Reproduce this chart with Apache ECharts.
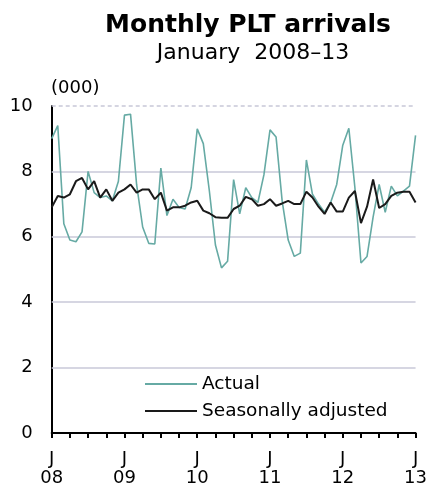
<!DOCTYPE html>
<html>
<head>
<meta charset="utf-8">
<script src="https://cdn.jsdelivr.net/npm/echarts@6/dist/echarts.min.js"></script>
<style>
html,body{margin:0;padding:0;background:#fff;}
#c{width:430px;height:494px;}
</style>
</head>
<body>
<div id="c"></div>
<script>
// Months Jan 2008 .. Jan 2013
var months = [];
var yearLabels = ['08','09','10','11','12','13'];
for (var y = 0; y < 5; y++) {
  for (var m = 0; m < 12; m++) months.push(yearLabels[y] + '-' + (m + 1));
}
months.push('13-1');

var actual = [
  9.0, 9.4, 6.4, 5.9, 5.85, 6.15, 8.0, 7.35, 7.2, 7.25, 7.1, 7.7,
  9.72, 9.75, 7.6, 6.3, 5.8, 5.78, 8.1, 6.65, 7.15, 6.9, 6.85, 7.5,
  9.3, 8.85, 7.4, 5.75, 5.05, 5.25, 7.75, 6.7, 7.5, 7.2, 7.05, 7.9,
  9.27, 9.05, 7.1, 5.9, 5.4, 5.5, 8.35, 7.3, 7.0, 6.75, 7.05, 7.6,
  8.8, 9.32, 7.5, 5.2, 5.4, 6.6, 7.6, 6.75, 7.55, 7.25, 7.4, 7.55,
  9.1
];
var seasonal = [
  6.9, 7.25, 7.2, 7.3, 7.7, 7.8, 7.45, 7.7, 7.2, 7.45, 7.1, 7.35,
  7.45, 7.6, 7.35, 7.45, 7.45, 7.15, 7.35, 6.8, 6.9, 6.9, 6.95, 7.05,
  7.1, 6.8, 6.72, 6.6, 6.58, 6.58, 6.85, 6.95, 7.22, 7.15, 6.95, 7.0,
  7.15, 6.95, 7.02, 7.1, 7.0, 7.0, 7.38, 7.2, 6.92, 6.7, 7.05, 6.77,
  6.77, 7.2, 7.4, 6.42, 6.92, 7.75, 6.88, 7.0, 7.25, 7.35, 7.38, 7.38,
  7.05
];
var yTicks = [0, 2, 4, 6, 8, 10];

var chart = echarts.init(document.getElementById('c'), null, {renderer: 'canvas'});
var option = {
  animation: false,
  backgroundColor: '#ffffff',
  title: [
    {text: 'Monthly PLT arrivals', left: 243, top: 8, textAlign: 'center',
     textStyle: {fontFamily: 'DejaVu Sans', fontWeight: 'bold', fontSize: 25, color: '#000'}},
    {text: 'January  2008\u201313', left: 248, top: 37, textAlign: 'center',
     textStyle: {fontFamily: 'DejaVu Sans', fontWeight: 'normal', fontSize: 22, color: '#000'}},
    {text: '(000)', left: 46, top: 74,
     textStyle: {fontFamily: 'DejaVu Sans', fontWeight: 'normal', fontSize: 18, color: '#000'}}
  ],
  grid: {left: 51.7, right: 10.7, top: 106, bottom: 61, containLabel: false},
  legend: {
    orient: 'vertical', left: 140, top: 369, itemGap: 7,
    itemWidth: 52, itemHeight: 2, icon: 'rect',
    textStyle: {fontFamily: 'DejaVu Sans', fontSize: 18.5, color: '#000', lineHeight: 20},
    data: ['Actual', 'Seasonally adjusted']
  },
  xAxis: {
    type: 'category', data: months, boundaryGap: false,
    axisLine: {show: true, lineStyle: {color: '#000', width: 2}},
    axisTick: {show: true, length: 5, lineStyle: {color: '#000', width: 2},
      interval: function (i) { return i % 3 === 0; }},
    axisLabel: {
      interval: function (i) { return i % 12 === 0; },
      formatter: function (v) { return 'J\n' + v.split('-')[0]; },
      alignMinLabel: 'center', alignMaxLabel: 'center', align: 'center',
      fontFamily: 'DejaVu Sans', fontSize: 18, color: '#000', lineHeight: 19, margin: 17
    },
    splitLine: {show: false}
  },
  yAxis: {
    type: 'value', min: yTicks[0], max: yTicks[yTicks.length - 1], interval: 2,
    axisLine: {show: true, lineStyle: {color: '#000', width: 2}},
    axisTick: {show: false},
    axisLabel: {fontFamily: 'DejaVu Sans', fontSize: 18, color: '#000', margin: 19},
    splitLine: {show: false}
  },
  series: [
    {name: 'Actual', type: 'line', data: actual, symbol: 'none', smooth: false,
     lineStyle: {color: '#66aaa4', width: 1.6}, itemStyle: {color: '#66aaa4'}, z: 3,
     markLine: {
       silent: true, symbol: 'none', label: {show: false}, z: 1,
       data: [
         {yAxis: 2, lineStyle: {type: 'solid', color: '#c8c8d8', width: 1.5}},
         {yAxis: 4, lineStyle: {type: 'solid', color: '#c8c8d8', width: 1.5}},
         {yAxis: 6, lineStyle: {type: 'solid', color: '#c8c8d8', width: 1.5}},
         {yAxis: 8, lineStyle: {type: 'solid', color: '#c8c8d8', width: 1.5}},
         {yAxis: 10, lineStyle: {type: [4, 3], color: '#c8c8d8', width: 1.5}}
       ]
     }},
    {name: 'Seasonally adjusted', type: 'line', data: seasonal, symbol: 'none', smooth: false,
     lineStyle: {color: '#1a1a1a', width: 2}, itemStyle: {color: '#1a1a1a'}, z: 4}
  ]
};
chart.setOption(option);
</script>
</body>
</html>
